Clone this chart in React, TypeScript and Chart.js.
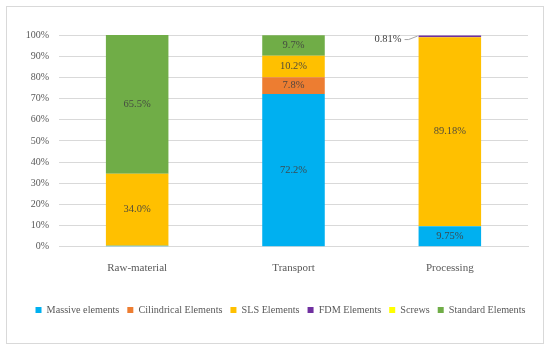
import { useEffect, useRef } from "react";
import { Chart, registerables } from "chart.js";

Chart.register(...registerables);

const categories = ["Raw-material", "Transport", "Processing"];
const seriesNames = [
  "Massive elements",
  "Cilindrical Elements",
  "SLS Elements",
  "FDM Elements",
  "Screws",
  "Standard Elements",
];
const massive = [0.5, 72.2, 9.75];
const cilindrical = [0, 7.8, 0];
const sls = [34.0, 10.2, 89.18];
const fdm = [0, 0, 0.81];
const screws = [0, 0, 0];
const standard = [65.5, 9.7, 0];

const massiveLabels = [null, "72.2%", "9.75%"];
const cilindricalLabels = [null, "7.8%", null];
const slsLabels = ["34.0%", "10.2%", "89.18%"];
const fdmLabels = [null, null, "0.81%"];
const screwsLabels = [null, null, null];
const standardLabels = ["65.5%", "9.7%", null];

const seriesColors = ["#00B0F0", "#ED7D31", "#FFC000", "#7030A0", "#FFFF00", "#70AD47"];
const yTickValues = [0, 10, 20, 30, 40, 50, 60, 70, 80, 90, 100];

const FONT = "'Liberation Serif', 'Times New Roman', serif";

const seriesData = [massive, cilindrical, sls, fdm, screws, standard];
const seriesLabels = [massiveLabels, cilindricalLabels, slsLabels, fdmLabels, screwsLabels, standardLabels];

const framePlugin = {
  id: "frame",
  beforeDraw(chart: any) {
    const ctx = chart.ctx;
    ctx.save();
    ctx.fillStyle = "#ffffff";
    ctx.fillRect(0, 0, chart.width, chart.height);
    ctx.strokeStyle = "#d9d9d9";
    ctx.lineWidth = 1;
    ctx.strokeRect(6.5, 6.5, chart.width - 13, chart.height - 13);
    ctx.restore();
  },
};

const dataLabelPlugin = {
  id: "segLabels",
  afterDatasetsDraw(chart: any) {
    const ctx = chart.ctx;
    ctx.save();
    ctx.font = `10.5px ${FONT}`;
    chart.data.datasets.forEach((ds: any, di: number) => {
      const meta = chart.getDatasetMeta(di);
      const labels = seriesLabels[di];
      meta.data.forEach((el: any, i: number) => {
        const text = labels[i];
        if (!text) return;
        const { x, y, base, width } = el.getProps(["x", "y", "base", "width"], true);
        const top = Math.min(y, base);
        const h = Math.abs(base - y);
        if (h < 10) {
          const left = x - width / 2;
          const ty = top + 4;
          ctx.fillStyle = "#404040";
          ctx.textAlign = "right";
          ctx.textBaseline = "middle";
          ctx.fillText(text, left - 17, ty);
          ctx.strokeStyle = "#a6a6a6";
          ctx.lineWidth = 1;
          ctx.beginPath();
          ctx.moveTo(left - 14, ty);
          ctx.lineTo(left - 10, ty);
          ctx.lineTo(left - 1, top + 0.5);
          ctx.stroke();
        } else {
          ctx.fillStyle = "rgba(64,64,64,0.9)";
          ctx.textAlign = "center";
          ctx.textBaseline = "middle";
          ctx.fillText(text, x, top + h / 2);
        }
      });
    });
    ctx.restore();
  },
};

export default function App() {
  const canvasRef = useRef<HTMLCanvasElement | null>(null);

  useEffect(() => {
    if (!canvasRef.current) return;
    const chart = new Chart(canvasRef.current, {
      type: "bar",
      data: {
        labels: categories,
        datasets: seriesNames.map((name, i) => ({
          label: name,
          data: seriesData[i],
          backgroundColor: seriesColors[i],
          borderWidth: 0,
          categoryPercentage: 0.8,
          barPercentage: 0.5,
        })),
      },
      options: {
        responsive: false,
        animation: false,
        devicePixelRatio: 1,
        layout: { padding: { left: 14, right: 3, top: 35, bottom: 25 } },
        plugins: {
          tooltip: { enabled: false },
          legend: {
            position: "bottom",
            labels: {
              boxWidth: 6,
              boxHeight: 6,
              padding: 8,
              color: "#595959",
              font: { family: FONT, size: 10.2 },
            },
          },
        },
        scales: {
          x: {
            stacked: true,
            grid: { display: false, drawTicks: false },
            border: { display: true, color: "#d9d9d9" },
            ticks: { color: "#595959", font: { family: FONT, size: 11 }, padding: 15 },
            afterFit: (s: any) => {
              s.height = 50;
            },
          },
          y: {
            stacked: true,
            min: 0,
            max: 100,
            grid: { color: "#d9d9d9", drawTicks: false },
            border: { display: false },
            afterBuildTicks: (s: any) => {
              s.ticks = yTickValues.map((v) => ({ value: v }));
            },
            ticks: {
              color: "#595959",
              font: { family: FONT, size: 10 },
              padding: 10,
              callback: (v: any) => `${v}%`,
            },
            afterFit: (s: any) => {
              s.width = 45;
            },
          },
          y2: {
            position: "right",
            display: true,
            min: 0,
            max: 100,
            grid: { display: false, drawTicks: false },
            border: { display: false },
            ticks: { display: false },
            afterFit: (s: any) => {
              s.width = 19;
            },
          },
        },
      },
      plugins: [framePlugin, dataLabelPlugin],
    });
    return () => chart.destroy();
  }, []);

  return (
    <div style={{ position: "absolute", left: 0, top: 0, width: 550, height: 350 }}>
      <canvas ref={canvasRef} width={550} height={350} />
    </div>
  );
}
